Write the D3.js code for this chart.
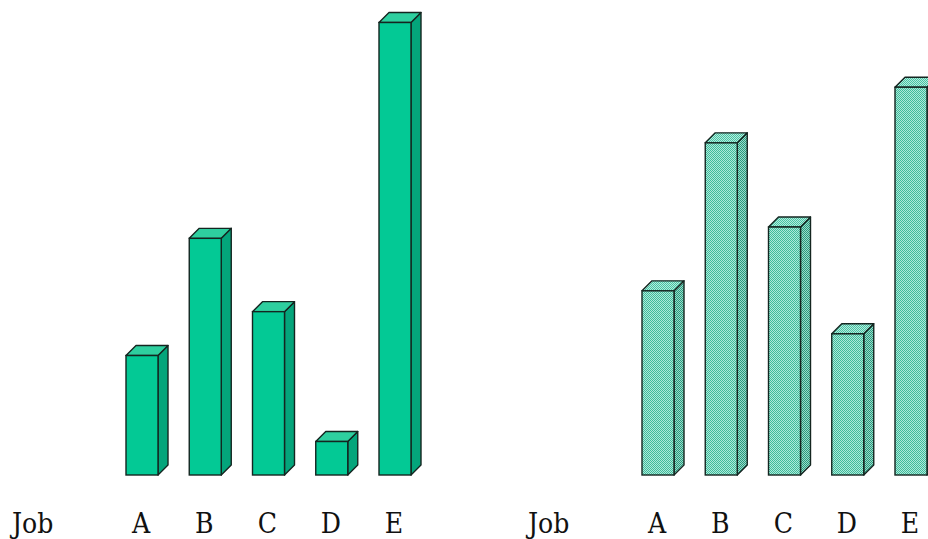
<!DOCTYPE html>
<html>
<head>
<meta charset="utf-8">
<script src="https://cdn.jsdelivr.net/npm/d3@7/dist/d3.min.js"></script>
<style>
  html, body { margin: 0; padding: 0; background: #ffffff; }
  svg { display: block; }
  text.lbl { font-family: "DejaVu Serif Condensed", "DejaVu Serif", serif; font-stretch: condensed; font-size: 28px; fill: #111111; }
</style>
</head>
<body>
<script>
// Job lengths before and after (arbitrary units, 0–100)
const jobs = ["A", "B", "C", "D", "E"];
const axisLabel = "Job";
const solidValues = [26.4, 52.3, 36.1, 7.4, 100];
const dottedValues = [40.7, 73.4, 54.8, 31.2, 85.7];

const W = 928, H = 539;
const svg = d3.select("body").append("svg").attr("width", W).attr("height", H);

// Stippled fills for the second panel
const defs = svg.append("defs");
function stipple(id, light, dark) {
  const p = defs.append("pattern").attr("id", id)
    .attr("width", 2).attr("height", 2).attr("patternUnits", "userSpaceOnUse");
  p.append("rect").attr("width", 2).attr("height", 2).attr("fill", light);
  p.append("rect").attr("width", 1).attr("height", 1).attr("fill", dark);
  p.append("rect").attr("x", 1).attr("y", 1).attr("width", 1).attr("height", 1).attr("fill", dark);
}
stipple("dotFront", "#aee9da", "#3fbb9a");
stipple("dotTop", "#b4ecde", "#48c2a2");
stipple("dotSide", "#98dcca", "#2a987c");

const y = d3.scaleLinear().domain([0, 100]).range([475, 22.5]);
const depthX = 10, depthY = 10;

function panel(offsetX, values, fills) {
  const x = d3.scaleBand().domain(jobs)
    .range([126 + offsetX, 411 + offsetX])
    .paddingInner(0.494).paddingOuter(0);
  const g = svg.append("g");
  const bw = x.bandwidth();
  const y0 = y(0);

  const bars = g.selectAll("g.bar").data(jobs.map((j, i) => ({ j, v: values[i] })))
    .join("g").attr("class", "bar");

  const stroke = "#142520", sw = 1.4;

  // side face
  bars.append("path")
    .attr("d", d => {
      const x0 = x(d.j), yt = y(d.v);
      return `M${x0 + bw},${yt}L${x0 + bw + depthX},${yt - depthY}L${x0 + bw + depthX},${y0 - depthY}L${x0 + bw},${y0}Z`;
    })
    .attr("fill", fills.side).attr("stroke", stroke).attr("stroke-width", sw)
    .attr("stroke-linejoin", "round");

  // top face
  bars.append("path")
    .attr("d", d => {
      const x0 = x(d.j), yt = y(d.v);
      return `M${x0},${yt}L${x0 + depthX},${yt - depthY}L${x0 + bw + depthX},${yt - depthY}L${x0 + bw},${yt}Z`;
    })
    .attr("fill", fills.top).attr("stroke", stroke).attr("stroke-width", sw)
    .attr("stroke-linejoin", "round");

  // front face
  bars.append("rect")
    .attr("x", d => x(d.j)).attr("y", d => y(d.v))
    .attr("width", bw).attr("height", d => y0 - y(d.v))
    .attr("fill", fills.front).attr("stroke", stroke).attr("stroke-width", sw);

  // category labels
  g.append("text").attr("class", "lbl").attr("x", 12 + offsetX).attr("y", 533)
    .text(axisLabel);
  g.selectAll("text.cat").data(jobs).join("text").attr("class", "lbl cat")
    .attr("x", d => x(d) + bw / 2 - 1).attr("y", 533)
    .attr("text-anchor", "middle")
    .text(d => d);
}

panel(0, solidValues, { front: "#03c995", top: "#2ecf9f", side: "#04a57b" });
panel(516, dottedValues, { front: "url(#dotFront)", top: "url(#dotTop)", side: "url(#dotSide)" });
</script>
</body>
</html>
